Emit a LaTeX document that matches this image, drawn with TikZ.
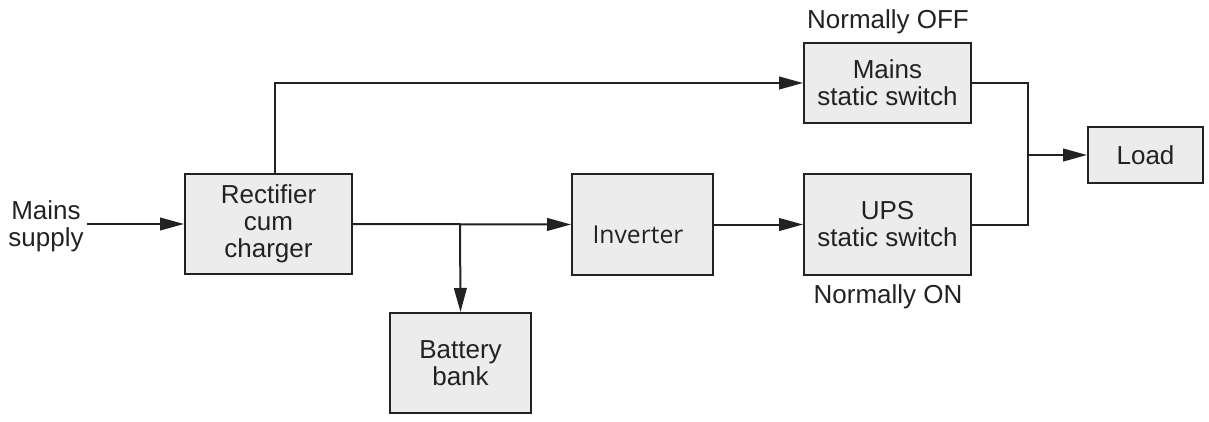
\documentclass[tikz,border=0pt]{standalone}
\usepackage{fontspec}
\setmainfont{Liberation Sans}
\newfontfamily\invfont{Open Sans}
\usepackage{xcolor}
\usepackage{tikz}
\usetikzlibrary{arrows.meta, positioning, calc}

\definecolor{boxgray}{HTML}{ECECEC}
\definecolor{ink}{HTML}{222222}

\tikzset{
  blk/.style = {draw = ink, line width = 1.5pt, fill = boxgray, align = center, inner sep = 0pt,
                text = ink, font = \fontsize{19.5}{20.3}\selectfont},
  lbl/.style = {align = center, inner sep = 2pt, text = ink, font = \fontsize{19.5}{20.3}\selectfont},
  wire/.style = {draw = ink, line width = 1.5pt},
  flow/.style = {wire, -{Triangle[length = 18pt, width = 9.5pt]}}
}

\begin{document}
\begin{tikzpicture}[x = 0.75pt, y = -0.75pt]
\useasboundingbox (0, 0) rectangle (1209, 421);
\node[lbl] at (46, 226) (sup) {Mains\\supply};
\node[blk, minimum width = 125.25pt, minimum height = 75pt] at (268.5, 224) (rect) {Rectifier\\cum\\charger};
\node[blk, minimum width = 105.75pt, minimum height = 75pt] at (460.5, 363) (batt) {Battery\\bank};
\node[blk, minimum width = 105.75pt, minimum height = 75.75pt] at (642.5, 224.5) (inv) {};
\node[lbl, font = \invfont\fontsize{18.5}{20}\selectfont] at (638, 235) (invtxt) {Inverter};
\node[blk, minimum width = 125.25pt, minimum height = 60pt] at (887.5, 83) (mss) {Mains\\static switch};
\node[blk, minimum width = 125.25pt, minimum height = 75.75pt] at (887.5, 224.5) (uss) {UPS\\static switch};
\node[blk, minimum width = 86.25pt, minimum height = 42pt] at (1145.5, 155) (load) {Load};
\node[lbl] at (888, 22) (off) {Normally OFF};
\node[lbl] at (888, 297) (on) {Normally ON};
\coordinate (split) at (460, 224);
\coordinate (jn) at (1028, 155);
% main path
\draw[flow] (sup.east |- rect.west) -- (rect.west);
\draw[flow] (rect.east) -- (inv.west);
\draw[flow] (split) -- (batt.north);
\draw[flow] (inv.east) -- (uss.west);
% bypass
\draw[flow] ([xshift = 4.9pt]rect.north) |- (mss.west);
\draw[wire] (mss.east) -| (jn);
\draw[wire] (uss.east) -| (jn);
\draw[flow] (jn) -- (load.west);
\end{tikzpicture}
\end{document}
